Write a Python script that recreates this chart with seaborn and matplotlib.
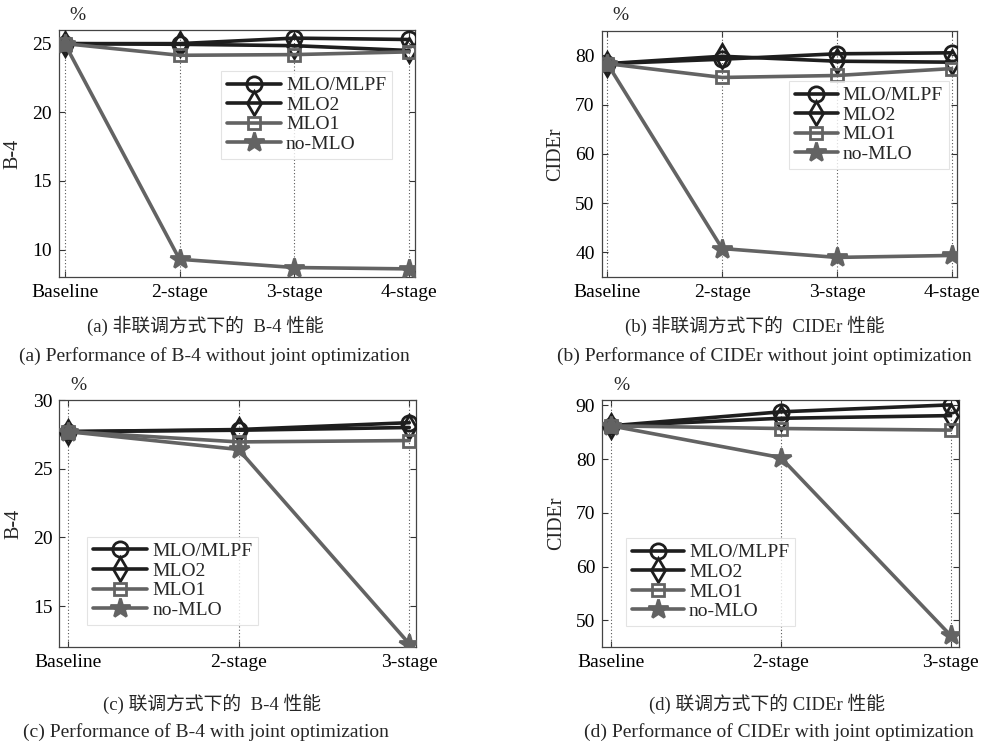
import matplotlib
matplotlib.use("Agg")
import matplotlib.pyplot as plt
import seaborn as sns
import pandas as pd

sns.set_style("ticks")
plt.rcParams['font.family'] = ['Liberation Serif', 'Noto Sans CJK SC', 'DejaVu Sans']
plt.rcParams['axes.unicode_minus'] = False

# ---------------- data ----------------
series_names = ["MLO/MLPF", "MLO2", "MLO1", "no-MLO"]

stages_4 = ["Baseline", "2-stage", "3-stage", "4-stage"]
stages_3 = ["Baseline", "2-stage", "3-stage"]

# (a) B-4 without joint optimization
a_mlpf = [25.0, 25.0, 25.4, 25.3]
a_mlo2 = [25.0, 24.95, 24.85, 24.5]
a_mlo1 = [25.0, 24.15, 24.2, 24.4]
a_nomlo = [25.0, 9.3, 8.7, 8.6]

# (b) CIDEr without joint optimization
b_mlpf = [78.3, 79.2, 80.3, 80.5]
b_mlo2 = [78.3, 79.8, 78.8, 78.6]
b_mlo1 = [78.3, 75.5, 75.9, 77.3]
b_nomlo = [78.3, 40.8, 39.0, 39.4]

# (c) B-4 with joint optimization
c_mlpf = [27.7, 27.85, 28.35]
c_mlo2 = [27.7, 27.8, 28.0]
c_mlo1 = [27.7, 26.95, 27.05]
c_nomlo = [27.7, 26.4, 12.25]

# (d) CIDEr with joint optimization
d_mlpf = [86.2, 88.8, 90.1]
d_mlo2 = [86.2, 87.6, 88.1]
d_mlo1 = [86.2, 85.7, 85.4]
d_nomlo = [86.2, 80.3, 47.2]

cap_cn = ["(a) 非联调方式下的  B-4 性能", "(b) 非联调方式下的  CIDEr 性能",
          "(c) 联调方式下的  B-4 性能", "(d) 联调方式下的 CIDEr 性能"]
cap_en = ["(a) Performance of B-4 without joint optimization",
          "(b) Performance of CIDEr without joint optimization",
          "(c) Performance of B-4 with joint optimization",
          "(d) Performance of CIDEr with joint optimization"]

# ---------------- styles ----------------
DARK = "#1e1e1e"
GRAY = "#636363"
styles = {
    "MLO/MLPF": dict(color=DARK, marker="o", ms=11, mfc="none"),
    "MLO2": dict(color=DARK, marker="d", ms=12, mfc="none"),
    "MLO1": dict(color=GRAY, marker="s", ms=9, mfc="none"),
    "no-MLO": dict(color=GRAY, marker="*", ms=15, mfc=GRAY),
}

fig = plt.figure(figsize=(9.83, 7.47), dpi=100)

panels = [
    dict(rect=[0.060, 0.629, 0.362, 0.331], cats=stages_4,
         vals=[a_mlpf, a_mlo2, a_mlo1, a_nomlo], ylim=(8.0, 26.0),
         yticks=[10, 15, 20, 25], ylabel="B-4", xlim=(-0.05, 3.05),
         leg=(0.455, 0.834), hl=2.8),
    dict(rect=[0.612, 0.629, 0.362, 0.330], cats=stages_4,
         vals=[b_mlpf, b_mlo2, b_mlo1, b_nomlo], ylim=(35, 85),
         yticks=[40, 50, 60, 70, 80], ylabel="CIDEr", xlim=(-0.05, 3.05),
         leg=(0.527, 0.796), hl=2.2),
    dict(rect=[0.0603, 0.1335, 0.363, 0.331], cats=stages_3,
         vals=[c_mlpf, c_mlo2, c_mlo1, c_nomlo], ylim=(12, 30),
         yticks=[15, 20, 25, 30], ylabel="B-4", xlim=(-0.05, 2.04),
         leg=(0.078, 0.447), hl=2.8),
    dict(rect=[0.6127, 0.1335, 0.363, 0.331], cats=stages_3,
         vals=[d_mlpf, d_mlo2, d_mlo1, d_nomlo], ylim=(45, 91),
         yticks=[50, 60, 70, 80, 90], ylabel="CIDEr", xlim=(-0.05, 2.05),
         leg=(0.066, 0.442), hl=2.7),
]

for p in panels:
    ax = fig.add_axes(p["rect"])
    pos = list(range(len(p["cats"])))
    for name, vals in zip(series_names, p["vals"]):
        st = styles[name]
        df = pd.DataFrame({"x": pos, "y": vals})
        sns.lineplot(data=df, x="x", y="y", ax=ax, color=st["color"], lw=2.6,
                     marker=st["marker"], markersize=st["ms"],
                     markerfacecolor=st["mfc"], markeredgecolor=st["color"],
                     markeredgewidth=2.0, label=name, zorder=3)
    ax.set_xlim(*p["xlim"])
    ax.set_ylim(*p["ylim"])
    ax.set_xticks(pos)
    ax.set_xticklabels(p["cats"])
    ax.set_yticks(p["yticks"])
    ax.set_xlabel("")
    ax.set_ylabel(p["ylabel"], fontsize=14.5, labelpad=7)
    for xv in pos:
        ax.axvline(xv, color="#555555", lw=0.8, ls=(0, (1, 2)), zorder=1)
    ax.tick_params(direction="in", top=True, right=True, labelsize=14,
                   length=4, width=0.8, colors="#333333", labelcolor="black",
                   pad=5)
    for s in ax.spines.values():
        s.set_color("#444444")
        s.set_linewidth(0.9)
    ax.text(0.03, 1.025, "%", transform=ax.transAxes, fontsize=14,
            ha="left", va="bottom")
    leg = ax.legend(loc="upper left", bbox_to_anchor=p["leg"], fontsize=14,
                    frameon=True, fancybox=False, edgecolor="#dddddd",
                    handlelength=p["hl"], handletextpad=0.25, borderpad=0.3,
                    labelspacing=0.1, borderaxespad=0)
    leg.get_frame().set_linewidth(0.8)

# captions
CN = 13.5
EN = 14
fig.text(0.209, 1 - 326 / 747, cap_cn[0], ha="center", va="center", fontsize=CN)
fig.text(0.218, 1 - 356 / 747, cap_en[0], ha="center", va="center", fontsize=EN)
fig.text(0.768, 1 - 326 / 747, cap_cn[1], ha="center", va="center", fontsize=CN)
fig.text(0.778, 1 - 356 / 747, cap_en[1], ha="center", va="center", fontsize=EN)
fig.text(0.216, 1 - 704 / 747, cap_cn[2], ha="center", va="center", fontsize=CN)
fig.text(0.209, 1 - 732 / 747, cap_en[2], ha="center", va="center", fontsize=EN)
fig.text(0.780, 1 - 704 / 747, cap_cn[3], ha="center", va="center", fontsize=CN)
fig.text(0.792, 1 - 732 / 747, cap_en[3], ha="center", va="center", fontsize=EN)

fig.savefig("out.png", dpi=100)
